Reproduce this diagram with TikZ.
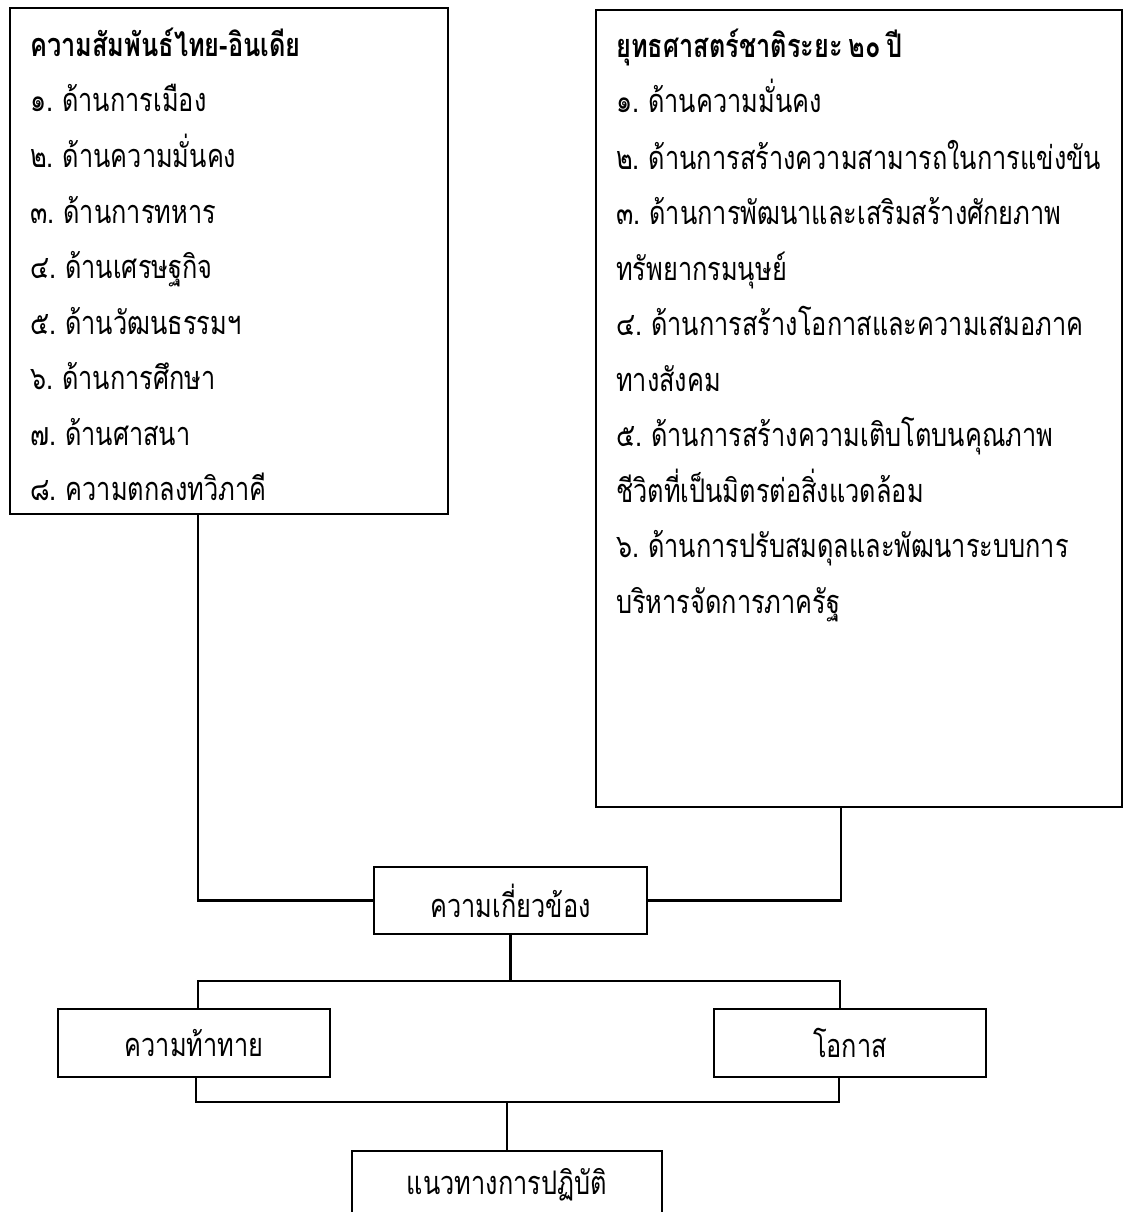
\documentclass[tikz,border=0pt]{standalone}
\usepackage{fontspec}
\setmainfont[Script=Thai,FakeStretch=0.78,WordSpace=0.7]{Loma}
\begin{document}
\begin{tikzpicture}[x=1pt,y=-1pt,
  box/.style={draw=black,line width=2.6pt,inner sep=0pt,minimum width=#1},
  lbl/.style={font=\fontsize{32.5}{36}\selectfont},
  ln/.style={anchor=base west,inner sep=0pt,font=\fontsize{32.5}{36}\selectfont},
  ttl/.style={anchor=base west,inner sep=0pt,font=\fontsize{32.5}{36}\selectfont\bfseries},
  con/.style={line width=2.2pt}]
\useasboundingbox (0,0) rectangle (1124,1212);
\fill[white] (0,0) rectangle (1124,1212);
% boxes
\node[box=438pt,minimum height=506pt] (lbox) at (229,261) {};
\node[box=526pt,minimum height=797pt] (rbox) at (859,408.5) {};
\node[box=273pt,minimum height=67pt,lbl] (rel) at (510.5,900.5) {ความเกี่ยวข้อง};
\node[box=272pt,minimum height=68pt,lbl] (chal) at (194,1043) {ความท้าทาย};
\node[box=272pt,minimum height=68pt,lbl] (opp) at (850,1043) {โอกาส};
\node[box=310pt,minimum height=68pt,lbl] (act) at (507,1185) {แนวทางการปฏิบัติ};
% left list
\node[ttl] (l0) at (30,57) {ความสัมพันธ์ไทย-อินเดีย};
\node[ln] (l1) at (30,112) {๑. ด้านการเมือง};
\node[ln] (l2) at (30,167.5) {๒. ด้านความมั่นคง};
\node[ln] (l3) at (30,223) {๓. ด้านการทหาร};
\node[ln] (l4) at (30,278.5) {๔. ด้านเศรษฐกิจ};
\node[ln] (l5) at (30,334) {๕. ด้านวัฒนธรรมฯ};
\node[ln] (l6) at (30,389.5) {๖. ด้านการศึกษา};
\node[ln] (l7) at (30,445) {๗. ด้านศาสนา};
\node[ln] (l8) at (30,500) {๘. ความตกลงทวิภาคี};
% right list
\node[ttl] (r0) at (616,58) {ยุทธศาสตร์ชาติระยะ ๒๐ ปี};
\node[ln] (r1) at (616,113) {๑. ด้านความมั่นคง};
\node[ln] (r2) at (616,169) {๒. ด้านการสร้างความสามารถในการแข่งขัน};
\node[ln] (r3) at (616,224.5) {๓. ด้านการพัฒนาและเสริมสร้างศักยภาพ};
\node[ln] (r4) at (616,280) {ทรัพยากรมนุษย์};
\node[ln] (r5) at (616,335.5) {๔. ด้านการสร้างโอกาสและความเสมอภาค};
\node[ln] (r6) at (616,391) {ทางสังคม};
\node[ln] (r7) at (616,446.5) {๕. ด้านการสร้างความเติบโตบนคุณภาพ};
\node[ln] (r8) at (616,502) {ชีวิตที่เป็นมิตรต่อสิ่งแวดล้อม};
\node[ln] (r9) at (616,557.5) {๖. ด้านการปรับสมดุลและพัฒนาระบบการ};
\node[ln] (r10) at (616,613) {บริหารจัดการภาครัฐ};
% junction coordinates
\coordinate (jl) at (198,898);
\coordinate (jr) at (841,898);
\coordinate (jtl) at (198,981);
\coordinate (jtr) at (840,981);
\coordinate (jbl) at (196,1102);
\coordinate (jbr) at (839,1102);
% connectors
\draw[con] (lbox.south -| jl) |- (rel.west);
\draw[con] (rbox.south -| jr) |- (rel.east);
\draw[con] (rel.south) -- (rel.south |- jtl);
\draw[con] (jtl |- chal.north) -- (jtl) -- (jtr) -- (jtr |- opp.north);
\draw[con] (chal.south -| jbl) -- (jbl) -- (jbr) -- (opp.south -| jbr);
\draw[con] (act.north |- jbl) -- (act.north);
\end{tikzpicture}
\end{document}
